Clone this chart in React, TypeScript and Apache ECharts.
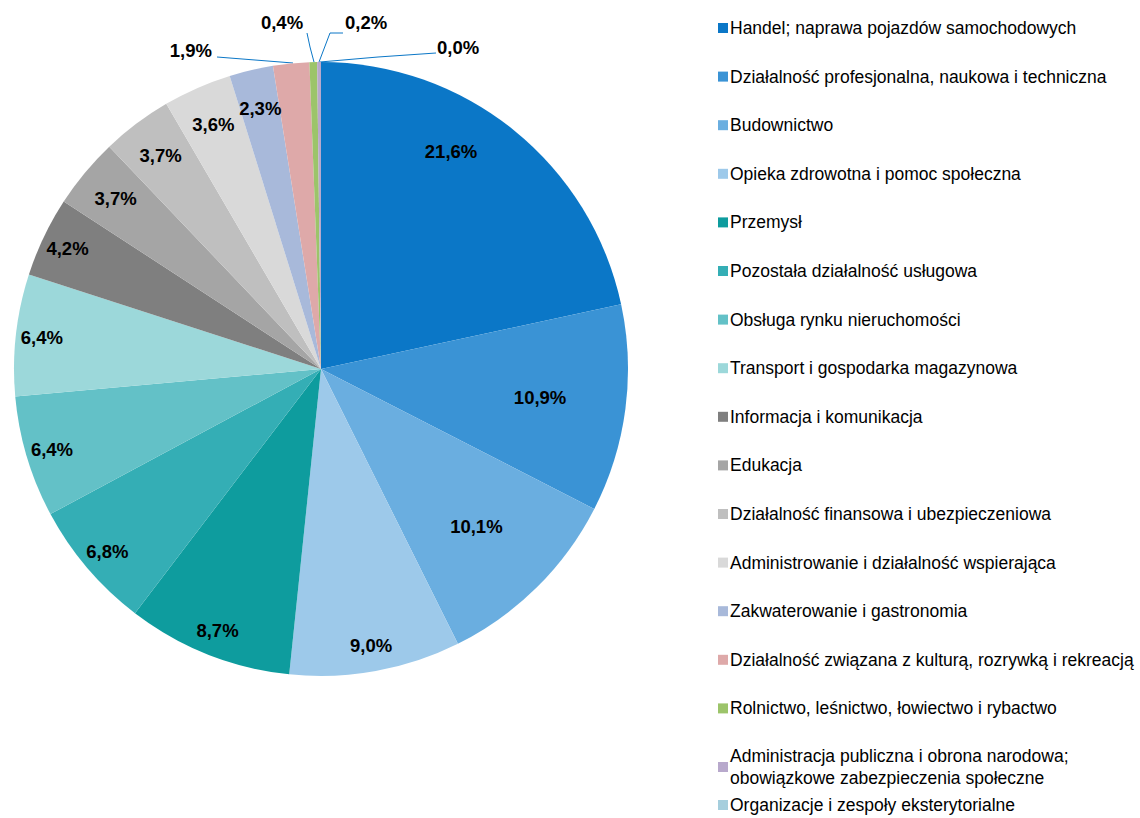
import React, { useEffect, useRef } from "react";
import * as echarts from "echarts";

const categories = [
  "Handel; naprawa pojazdów samochodowych",
  "Działalność profesjonalna, naukowa i techniczna",
  "Budownictwo",
  "Opieka zdrowotna i pomoc społeczna",
  "Przemysł",
  "Pozostała działalność usługowa",
  "Obsługa rynku nieruchomości",
  "Transport i gospodarka magazynowa",
  "Informacja i komunikacja",
  "Edukacja",
  "Działalność finansowa i ubezpieczeniowa",
  "Administrowanie i działalność wspierająca",
  "Zakwaterowanie i gastronomia",
  "Działalność związana z kulturą, rozrywką i rekreacją",
  "Rolnictwo, leśnictwo, łowiectwo i rybactwo",
  "Administracja publiczna i obrona narodowa;\nobowiązkowe zabezpieczenia społeczne",
  "Organizacje i zespoły eksterytorialne",
];

const shares = [21.6, 10.9, 10.1, 9.0, 8.7, 6.8, 6.4, 6.4, 4.2, 3.7, 3.7, 3.6, 2.3, 1.9, 0.4, 0.2, 0.0];

const colors = [
  "#0B77C7", "#3A93D5", "#6AAEE0", "#9DC9EA", "#0E9C9E", "#34AEB5",
  "#63C1C7", "#9CD8DA", "#7F7F7F", "#A5A5A5", "#BFBFBF", "#D9D9D9",
  "#A8B9DA", "#DEA9A9", "#9CC46A", "#B8A9CC", "#A5CEDD",
];

// which label band each slice's label belongs to
const outerBandIdx = [3, 4, 5, 6, 7, 8];
const upperBandIdx = [9, 10, 11, 12];
const midBandIdx = [0];
const innerBandIdx = [1, 2];
const outsideIdx = [13, 14, 15, 16];

const fmt = (v: number) => v.toFixed(1).replace(".", ",") + "%";

const CX = 321;
const CY = 369;
const R = 307;
const labelFont = '"Liberation Sans Narrow", "Arial Narrow", "Liberation Sans", Arial, sans-serif';

export default function App() {
  const ref = useRef<HTMLDivElement>(null);
  useEffect(() => {
    if (!ref.current) return;
    const chart = echarts.init(ref.current, null, { renderer: "svg" });

    const labelSeries = (idx: number[], r0: number, r1: number, nudge?: any) => ({
      type: "pie",
      silent: true,
      center: [CX, CY],
      radius: [r0, r1],
      startAngle: 90,
      clockwise: true,
      avoidLabelOverlap: false,
      itemStyle: { color: "rgba(0,0,0,0)", borderWidth: 0 },
      label: {
        show: true,
        position: "inside",
        formatter: (p: any) => fmt(shares[p.dataIndex]),
        fontFamily: labelFont,
        fontWeight: "bold",
        fontSize: 18.5,
        color: "#000",
      },
      labelLine: { show: false },
      labelLayout: nudge ? () => nudge : undefined,
      emphasis: { disabled: true },
      data: categories.map((c, i) => ({
        name: c,
        value: shares[i],
        label: { show: idx.includes(i) },
      })),
    });

    const outsidePos: Record<number, any> = {
      13: { x: 212, y: 50, align: "right", pts: [[293, 63], [255, 60], [217, 57]] },
      14: { x: 282, y: 22, align: "center", pts: [[314, 62], [310, 47], [307, 33]] },
      15: { x: 345, y: 22, align: "left", pts: [[319, 62], [330, 33], [343, 33]] },
      16: { x: 437, y: 47, align: "left", pts: [[320, 62], [378, 57], [436, 53]] },
    };

    const legendNames = categories.map((c) => c);
    const legendText = { fontFamily: labelFont, fontSize: 17.5, color: "#000", padding: [0, 0, 0, -3] };

    chart.setOption({
      animation: false,
      color: colors,
      legend: [
        {
          orient: "vertical",
          left: 713,
          top: 13,
          itemWidth: 10,
          itemHeight: 10,
          itemGap: 28.6,
          icon: "rect",
          selectedMode: false,
          data: legendNames.slice(0, 15),
          textStyle: { ...legendText, lineHeight: 20 },
        },
        {
          orient: "vertical",
          left: 713,
          top: 740,
          itemWidth: 10,
          itemHeight: 10,
          itemGap: 5,
          icon: "rect",
          selectedMode: false,
          data: legendNames.slice(15),
          textStyle: { ...legendText, lineHeight: 22 },
        },
      ],
      series: [
        {
          type: "pie",
          center: [CX, CY],
          radius: R,
          startAngle: 90,
          clockwise: true,
          avoidLabelOverlap: false,
          minAngle: 0,
          itemStyle: { borderWidth: 0 },
          emphasis: { disabled: true },
          label: {
            show: true,
            position: "outside",
            formatter: (p: any) => fmt(shares[p.dataIndex]),
            fontFamily: labelFont,
            fontWeight: "bold",
            fontSize: 18.5,
            color: "#000",
          },
          labelLine: { show: true, lineStyle: { color: "#0B77C7", width: 1 } },
          labelLayout: (p: any) => {
            const o = outsidePos[p.dataIndex];
            if (!o) return {};
            return { x: o.x, y: o.y, align: o.align, verticalAlign: "middle", labelLinePoints: o.pts };
          },
          data: categories.map((c, i) => ({
            name: c,
            value: shares[i],
            label: { show: outsideIdx.includes(i) },
            labelLine: { show: outsideIdx.includes(i) },
          })),
        },
        labelSeries(outerBandIdx, R * 0.81, R * 1.0),
        labelSeries(upperBandIdx, R * 0.72, R * 1.0),
        labelSeries(midBandIdx, R * 0.64, R * 1.0, { dx: -30, dy: -19 }),
        labelSeries(innerBandIdx, R * 0.42, R * 1.0),
      ],
    });
    return () => chart.dispose();
  }, []);
  return (
    <div
      ref={ref}
      style={{ position: "absolute", left: 0, top: 0, width: 1140, height: 818, background: "#fff" }}
    />
  );
}
